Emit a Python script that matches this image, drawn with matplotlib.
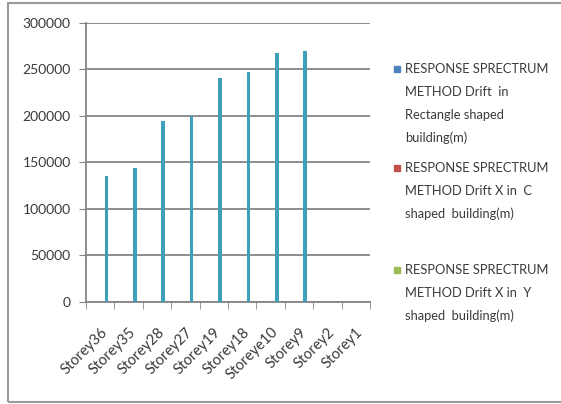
import matplotlib.pyplot as plt
from matplotlib.patches import Rectangle
from matplotlib.transforms import ScaledTranslation
import numpy as np

storeys = ['Storey36', 'Storey35', 'Storey28', 'Storey27', 'Storey19',
           'Storey18', 'Storeye10', 'Storey9', 'Storey2', 'Storey1']
drift = [135000, 144000, 195000, 200000, 241000, 247000, 268000, 270000, 0, 0]

series_names = ['RESPONSE SPRECTRUM\nMETHOD Drift  in\nRectangle shaped\nbuilding(m)',
                'RESPONSE SPRECTRUM\nMETHOD Drift X in  C\nshaped  building(m)',
                'RESPONSE SPRECTRUM\nMETHOD Drift X in  Y\nshaped  building(m)']
series_colors = ['#4F81BD', '#C0504D', '#9BBB59']
yticks = [0, 50000, 100000, 150000, 200000, 250000, 300000]

plt.rcParams['font.family'] = ['Lato', 'DejaVu Sans']
txt = '#3a3a3a'
W, H = 561, 404

fig = plt.figure(figsize=(W / 100, H / 100), dpi=100)
fig.patch.set_facecolor('white')

# outer chart border
fig.patches.append(Rectangle((8 / W, 1 - 402 / H), 560 / W, 399 / H,
                             transform=fig.transFigure, fill=False,
                             edgecolor='#9a9a9a', linewidth=1.5))

ax = fig.add_axes([86 / W, 1 - 301.7 / H, 284 / W, 278.7 / H])
x = np.arange(len(storeys))
ax.bar(x + 0.22, drift, width=0.13, color='#3E9FB8', zorder=3)

ax.set_xlim(-0.5, len(storeys) - 0.5)
ax.set_ylim(0, 300000)
ax.set_yticks(yticks)
ax.set_yticklabels([str(v) for v in yticks], fontsize=10, color=txt)
ax.yaxis.grid(True, color='#858585', linewidth=1.3, zorder=0)
ax.tick_params(axis='y', length=5, color='#858585', pad=6)

ax.set_xticks(x)
ax.set_xticklabels(storeys, rotation=45, ha='right', rotation_mode='anchor',
                   fontsize=10.5, color=txt)
shift = ScaledTranslation(3 / 100, 0, fig.dpi_scale_trans)
for lbl in ax.get_xticklabels():
    lbl.set_transform(lbl.get_transform() + shift)
ax.set_xticks(np.arange(len(storeys) + 1) - 0.5, minor=True)
ax.tick_params(axis='x', which='major', length=0, pad=17)
ax.tick_params(axis='x', which='minor', length=5, color='#858585')

for s in ['top', 'right']:
    ax.spines[s].set_visible(False)
for s in ['left', 'bottom']:
    ax.spines[s].set_color('#858585')
    ax.spines[s].set_linewidth(1.3)

# legend drawn as stacked text blocks
start_y = [69, 168, 270]
for name, col, y0 in zip(series_names, series_colors, start_y):
    fig.patches.append(Rectangle((394 / W, 1 - (y0 + 3) / H), 6 / W, 6 / H,
                                 transform=fig.transFigure, color=col))
    for i, line in enumerate(name.split('\n')):
        fig.text(405 / W, 1 - (y0 + 23 * i) / H, line, fontsize=9.3,
                 color=txt, va='center', ha='left')

fig.savefig('out.png', dpi=100)
